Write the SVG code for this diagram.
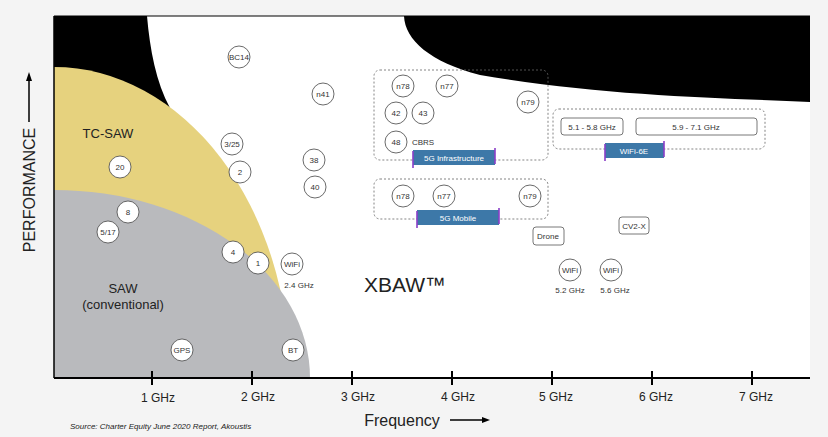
<svg xmlns="http://www.w3.org/2000/svg" width="828" height="437" viewBox="0 0 828 437">
<style>
text{font-family:"Liberation Sans",Arial,sans-serif;fill:#222}
.c circle{fill:#fff;stroke:#444;stroke-width:0.8}
.c text{font-size:8px;text-anchor:middle;fill:#333}
.box{fill:none;stroke:#666;stroke-dasharray:2 2;stroke-width:0.8}
.pill{fill:#fff;stroke:#555;stroke-width:0.8}
.ban{fill:#3d78a8}
.banedge{stroke:#8a3fc8;stroke-width:1.6}
.c text.bt{font-size:8px;fill:#fff;text-anchor:middle}
.tick{font-size:12px;text-anchor:middle}
</style>
<rect width="828" height="437" fill="#f4f4f4"/>
<rect x="54" y="16" width="756" height="362" fill="#fff"/>
<g id="regions">
<path d="M54,16 H147 C150,50 156,82 170,108 L54,108 Z" fill="#000"/>
<path d="M404,16 C405,40 430,62 480,75 C600,96 720,98 810,102 V16 Z" fill="#000"/>
<path d="M54,67 A236,311 0 0 1 290,378 L54,378 Z" fill="#e6d27e"/>
<path d="M54,190 A256,188 0 0 1 310,378 L54,378 Z" fill="#b9babd"/>
<line x1="54" y1="16" x2="810" y2="16" stroke="#000"/>
</g>
<g id="axes" stroke="#000">
<line x1="54" y1="16" x2="54" y2="378" stroke-width="1.5"/>
<line x1="54" y1="378" x2="810" y2="378" stroke-width="2"/>
<path d="M152,371V385M252,371V385M352,371V385M452,371V385M552,371V385M652,371V385M752,371V385" stroke-width="2"/>
</g>
<g id="ticklabels">
<text class="tick" x="158" y="402">1 GHz</text>
<text class="tick" x="258" y="401">2 GHz</text>
<text class="tick" x="358" y="401">3 GHz</text>
<text class="tick" x="458" y="401">4 GHz</text>
<text class="tick" x="556" y="401">5 GHz</text>
<text class="tick" x="656" y="401">6 GHz</text>
<text class="tick" x="756" y="401">7 GHz</text>
</g>
<g id="axis-titles">
<text x="402" y="426" font-size="16" text-anchor="middle">Frequency</text>
<line x1="450" y1="420" x2="484" y2="420" stroke="#000" stroke-width="1.5"/>
<path d="M490,420 L482,417 L482,423 Z" fill="#000"/>
<text transform="translate(35,190) rotate(-90)" font-size="16" text-anchor="middle">PERFORMANCE</text>
<line x1="29" y1="122" x2="29" y2="80" stroke="#000" stroke-width="1.5"/>
<path d="M29,72 L26,81 L32,81 Z" fill="#000"/>
<text x="70" y="429" font-size="8" font-style="italic" fill="#333">Source: Charter Equity June 2020 Report, Akoustis</text>
</g>
<g id="region-labels">
<text x="108" y="138" font-size="13" text-anchor="middle">TC-SAW</text>
<text x="123" y="293" font-size="13" text-anchor="middle">SAW</text>
<text x="123" y="309" font-size="13" text-anchor="middle">(conventional)</text>
<text x="405" y="292" font-size="21" text-anchor="middle" fill="#111">XBAW™</text>
</g>
<g id="bands" class="c">
<g id="n-BC14"><circle cx="239" cy="57" r="11"/><text x="239" y="60">BC14</text></g>
<g id="n-n41"><circle cx="323" cy="94" r="11"/><text x="323" y="97">n41</text></g>
<g id="n-325"><circle cx="232" cy="144" r="11"/><text x="232" y="147">3/25</text></g>
<g id="n-2"><circle cx="240" cy="172" r="11"/><text x="240" y="175">2</text></g>
<g id="n-38"><circle cx="314" cy="160" r="11"/><text x="314" y="163">38</text></g>
<g id="n-40"><circle cx="315" cy="187" r="11"/><text x="315" y="190">40</text></g>
<g id="n-20"><circle cx="120" cy="167" r="11"/><text x="120" y="170">20</text></g>
<g id="n-8"><circle cx="128" cy="212" r="11"/><text x="128" y="215">8</text></g>
<g id="n-517"><circle cx="108" cy="232" r="11"/><text x="108" y="235">5/17</text></g>
<g id="n-4"><circle cx="233" cy="252" r="11"/><text x="233" y="255">4</text></g>
<g id="n-1"><circle cx="258" cy="263" r="11"/><text x="258" y="266">1</text></g>
<g id="n-wifi24"><circle cx="292" cy="264" r="11"/><text x="292" y="267">WiFi</text><text x="299" y="288">2.4 GHz</text></g>
<g id="n-GPS"><circle cx="182" cy="350" r="11"/><text x="182" y="353">GPS</text></g>
<g id="n-BT"><circle cx="293" cy="350" r="11"/><text x="293" y="353">BT</text></g>
<g id="g-5ginfra">
<rect class="box" x="374" y="70" width="174" height="90" rx="6"/>
<circle cx="403" cy="86" r="11"/><text x="403" y="89">n78</text>
<circle cx="447" cy="86" r="11"/><text x="447" y="89">n77</text>
<circle cx="396" cy="113" r="11"/><text x="396" y="116">42</text>
<circle cx="423" cy="113" r="11"/><text x="423" y="116">43</text>
<circle cx="396" cy="142" r="11"/><text x="396" y="145">48</text>
<text x="423" y="145">CBRS</text>
<circle cx="528" cy="102" r="11"/><text x="528" y="105">n79</text>
<rect class="ban" x="413" y="150" width="82" height="15"/>
<path class="banedge" d="M413,151V168M495,148V164"/>
<text class="bt" x="454" y="161">5G Infrastructure</text>
</g>
<g id="g-5gmobile">
<rect class="box" x="374" y="179" width="174" height="40" rx="6"/>
<circle cx="403" cy="196" r="11"/><text x="403" y="199">n78</text>
<circle cx="444" cy="196" r="11"/><text x="444" y="199">n77</text>
<circle cx="530" cy="196" r="11"/><text x="530" y="199">n79</text>
<rect class="ban" x="417" y="210" width="82" height="15"/>
<path class="banedge" d="M417,211V228M499,208V224"/>
<text class="bt" x="458" y="221">5G Mobile</text>
</g>
<g id="g-wifi6e">
<rect class="box" x="553" y="109" width="212" height="40" rx="6"/>
<rect class="pill" x="561" y="118" width="62" height="17" rx="3"/><text x="592" y="130">5.1 - 5.8 GHz</text>
<rect class="pill" x="636" y="118" width="121" height="17" rx="3"/><text x="696" y="130">5.9 - 7.1 GHz</text>
<rect class="ban" x="605" y="143" width="59" height="15"/>
<path class="banedge" d="M605,144V161M664,141V157"/>
<text class="bt" x="634" y="154">WiFi-6E</text>
</g>
<g id="n-drone"><rect class="pill" x="533" y="227" width="31" height="18" rx="3"/><text x="548" y="239">Drone</text></g>
<g id="n-cv2x"><rect class="pill" x="619" y="217" width="30" height="17" rx="3"/><text x="634" y="229">CV2-X</text></g>
<g id="n-wifi52"><circle cx="570" cy="270" r="11"/><text x="570" y="273">WiFi</text><text x="570" y="293">5.2 GHz</text></g>
<g id="n-wifi56"><circle cx="611" cy="270" r="11"/><text x="611" y="273">WiFi</text><text x="615" y="293">5.6 GHz</text></g>
</g>
<g id="connectors"></g>
</svg>
